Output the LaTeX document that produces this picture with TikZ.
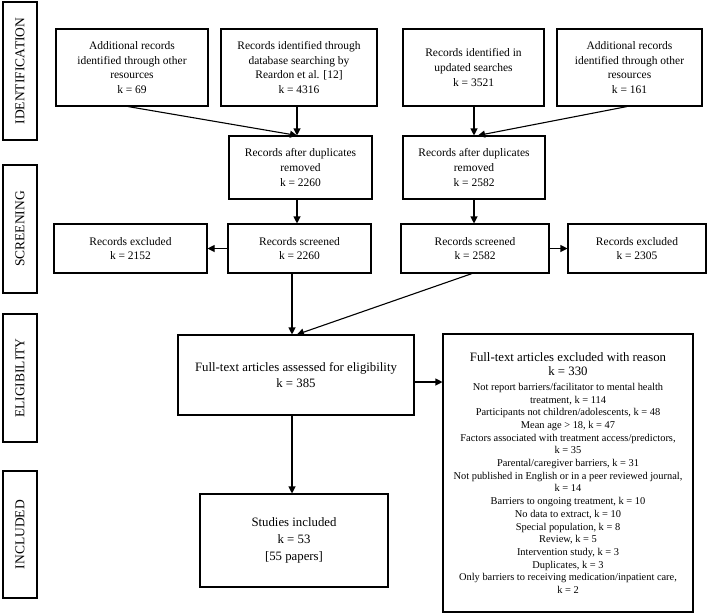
\documentclass[tikz,border=0pt]{standalone}
\usepackage{fontspec}
\setmainfont{Liberation Serif}
\usetikzlibrary{arrows.meta}
\newcommand{\bigtitle}[1]{{\fontsize{12.8}{14}\selectfont #1}}
\begin{document}
\begin{tikzpicture}[x=1pt,y=-1pt,
  box/.style={draw, line width=1.1pt, inner sep=0pt, align=center, font=\fontsize{11.5}{14.6}\selectfont},
  bigbox/.style={box, font=\fontsize{12.8}{16.6}\selectfont},
  side/.style={draw, line width=1.1pt, inner sep=0pt, rotate=90, font=\fontsize{13.5}{15}\selectfont, minimum height=34pt},
  reasons/.style={draw, line width=1.1pt, inner sep=0pt, align=center, font=\fontsize{10.4}{12.7}\selectfont},
  arr/.style={line width=1.1pt, -{Triangle[length=7pt,width=7pt]}}]
\useasboundingbox (0,0) rectangle (708,614);
% side labels
\node[side, minimum width=138pt] (lid) at (20,71) {IDENTIFICATION};
\node[side, minimum width=128pt] (lsc) at (20,229) {SCREENING};
\node[side, minimum width=128pt] (lel) at (20,378) {ELIGIBILITY};
\node[side, minimum width=127pt] (lin) at (20,534.5) {INCLUDED};
% identification
\node[box, minimum width=152pt, minimum height=77pt] (a1) at (132,67.5) {Additional records\\identified through other\\resources\\k = 69};
\node[box, minimum width=156pt, minimum height=77pt] (a2) at (299,67.5) {Records identified through\\database searching by\\Reardon et al. [12]\\k = 4316};
\node[box, minimum width=141pt, minimum height=77pt] (a3) at (473.5,67.5) {Records identified in\\updated searches\\k = 3521};
\node[box, minimum width=145pt, minimum height=77pt] (a4) at (629.5,67.5) {Additional records\\identified through other\\resources\\k = 161};
% screening
\node[box, minimum width=143pt, minimum height=63pt] (d1) at (300.5,167.5) {Records after duplicates\\removed\\k = 2260};
\node[box, minimum width=142pt, minimum height=63pt] (d2) at (474,167.5) {Records after duplicates\\removed\\k = 2582};
\node[box, minimum width=153pt, minimum height=49pt] (e1) at (130.5,248.5) {Records excluded\\k = 2152};
\node[box, minimum width=143pt, minimum height=49pt] (s1) at (299.5,248.5) {Records screened\\k = 2260};
\node[box, minimum width=148pt, minimum height=49pt] (s2) at (475,248.5) {Records screened\\k = 2582};
\node[box, minimum width=138pt, minimum height=49pt] (e2) at (637,248.5) {Records excluded\\k = 2305};
% eligibility
\node[bigbox, minimum width=236pt, minimum height=80pt] (ft) at (296,375) {Full-text articles assessed for eligibility\\k = 385};
\node[reasons, minimum width=250pt, minimum height=278pt] (exc) at (568,473) {\bigtitle{Full-text articles excluded with reason}\\[1.5pt]\bigtitle{k = 330}\\[2pt]Not report barriers/facilitator to mental health\\treatment, k = 114\\Participants not children/adolescents, k = 48\\Mean age > 18, k = 47\\Factors associated with treatment access/predictors,\\k = 35\\Parental/caregiver barriers, k = 31\\Not published in English or in a peer reviewed journal,\\k = 14\\Barriers to ongoing treatment, k = 10\\No data to extract, k = 10\\Special population, k = 8\\Review, k = 5\\Intervention study, k = 3\\Duplicates, k = 3\\Only barriers to receiving medication/inpatient care,\\k = 2};
% included
\node[bigbox, minimum width=188pt, minimum height=93pt] (st) at (294,540.5) {Studies included\\k = 53\\{[55 papers]}};
% connectors
\coordinate (d1in) at ([xshift=-3.5pt]d1.north);
\coordinate (d2in) at (d2.north);
\coordinate (ftin) at ([xshift=-4pt]ft.north);
\draw[arr] (a2.south -| d1in) -- (d1in);
\draw[arr] ([xshift=-4pt]a1.south) -- (d1in);
\draw[arr] (a3.south -| d2in) -- (d2in);
\draw[arr] ([xshift=-2.5pt]a4.south) -- ([xshift=4pt]d2in);
\draw[arr] (d1.south -| d1in) -- (s1.north -| d1in);
\draw[arr] (d2.south -| d2in) -- (s2.north -| d2in);
\draw[arr] (s1.west) -- (e1.east);
\draw[arr] (s2.east) -- (e2.west);
\draw[arr] (s1.south -| ftin) -- (ftin);
\draw[arr] ([xshift=-3pt]s2.south) -- ([xshift=5pt]ftin);
\draw[arr] ([yshift=-7pt]ft.east) -- ([yshift=-7pt]ft.east -| exc.west);
\draw[arr] (ft.south -| ftin) -- (st.north -| ftin);
\end{tikzpicture}
\end{document}
